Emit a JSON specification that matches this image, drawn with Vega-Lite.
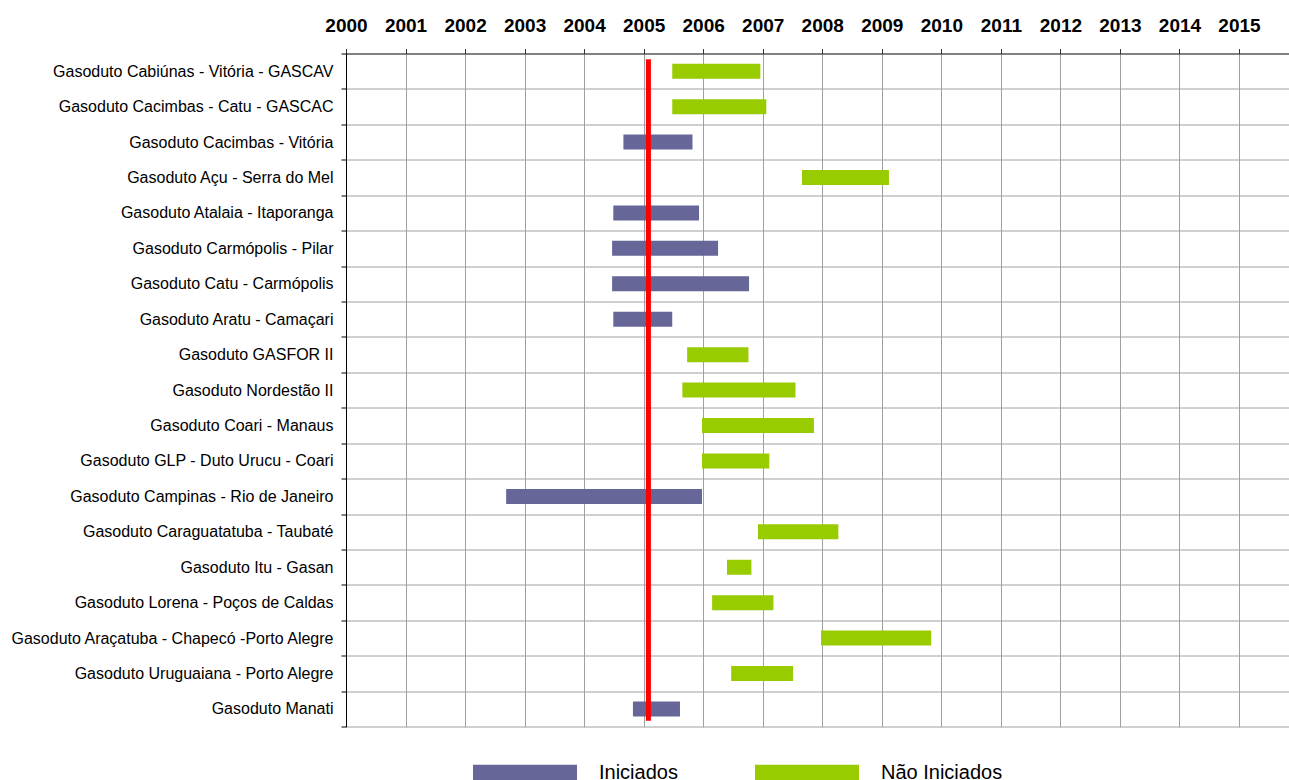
{
  "$schema": "https://vega.github.io/schema/vega-lite/v6.json",
  "autosize": {"type": "none"},
  "padding": {"left": 346, "top": 53.5, "right": 0, "bottom": 53.3},
  "width": 943,
  "height": 673.2,
  "background": "white",
  "config": {
    "view": {"stroke": null},
    "font": "Liberation Sans"
  },
  "datasets": {
    "bars": [
      {"gasoduto": "Gasoduto Cabiúnas - Vitória - GASCAV", "status": "Não Iniciados", "inicio": 2005.48, "fim": 2006.96},
      {"gasoduto": "Gasoduto Cacimbas - Catu - GASCAC", "status": "Não Iniciados", "inicio": 2005.48, "fim": 2007.06},
      {"gasoduto": "Gasoduto Cacimbas - Vitória", "status": "Iniciados", "inicio": 2004.66, "fim": 2005.82},
      {"gasoduto": "Gasoduto Açu - Serra do Mel", "status": "Não Iniciados", "inicio": 2007.66, "fim": 2009.12},
      {"gasoduto": "Gasoduto Atalaia - Itaporanga", "status": "Iniciados", "inicio": 2004.49, "fim": 2005.93},
      {"gasoduto": "Gasoduto Carmópolis - Pilar", "status": "Iniciados", "inicio": 2004.47, "fim": 2006.25},
      {"gasoduto": "Gasoduto Catu - Carmópolis", "status": "Iniciados", "inicio": 2004.47, "fim": 2006.77},
      {"gasoduto": "Gasoduto Aratu - Camaçari", "status": "Iniciados", "inicio": 2004.49, "fim": 2005.48},
      {"gasoduto": "Gasoduto GASFOR II", "status": "Não Iniciados", "inicio": 2005.73, "fim": 2006.76},
      {"gasoduto": "Gasoduto Nordestão II", "status": "Não Iniciados", "inicio": 2005.65, "fim": 2007.55},
      {"gasoduto": "Gasoduto Coari - Manaus", "status": "Não Iniciados", "inicio": 2005.98, "fim": 2007.86},
      {"gasoduto": "Gasoduto GLP - Duto Urucu - Coari", "status": "Não Iniciados", "inicio": 2005.98, "fim": 2007.11},
      {"gasoduto": "Gasoduto Campinas - Rio de Janeiro", "status": "Iniciados", "inicio": 2002.69, "fim": 2005.98},
      {"gasoduto": "Gasoduto Caraguatatuba - Taubaté", "status": "Não Iniciados", "inicio": 2006.92, "fim": 2008.27},
      {"gasoduto": "Gasoduto Itu - Gasan", "status": "Não Iniciados", "inicio": 2006.40, "fim": 2006.81},
      {"gasoduto": "Gasoduto Lorena - Poços de Caldas", "status": "Não Iniciados", "inicio": 2006.15, "fim": 2007.18},
      {"gasoduto": "Gasoduto Araçatuba - Chapecó -Porto Alegre", "status": "Não Iniciados", "inicio": 2007.98, "fim": 2009.83},
      {"gasoduto": "Gasoduto Uruguaiana - Porto Alegre", "status": "Não Iniciados", "inicio": 2006.47, "fim": 2007.51},
      {"gasoduto": "Gasoduto Manati", "status": "Iniciados", "inicio": 2004.82, "fim": 2005.61}
    ],
    "hoje": [
      {"data": 2005.08, "topo": 0.164, "base": 18.83}
    ]
  },
  "resolve": {"scale": {"y": "independent"}},
  "layer": [
    {
      "data": {"name": "bars"},
      "mark": {"type": "bar", "size": 15},
      "encoding": {
        "y": {
          "field": "gasoduto",
          "type": "nominal",
          "sort": null,
          "scale": {"paddingInner": 0, "paddingOuter": 0},
          "axis": {
            "title": null,
            "tickBand": "extent",
            "labelFontSize": 16,
            "labelFont": "Liberation Sans",
            "labelColor": "#000000",
            "labelLimit": 400,
            "labelPadding": 8,
            "tickSize": 5,
            "tickColor": "#000000",
            "domainColor": "#000000",
            "grid": true,
            "gridColor": "#a0a0a0",
            "gridWidth": 1
          }
        },
        "x": {
          "field": "inicio",
          "type": "quantitative",
          "scale": {"domain": [2000, 2015.84], "nice": false, "zero": false},
          "axis": {
            "orient": "top",
            "title": null,
            "values": [2000, 2001, 2002, 2003, 2004, 2005, 2006, 2007, 2008, 2009, 2010, 2011, 2012, 2013, 2014, 2015],
            "format": "d",
            "labelOverlap": false,
            "labelBound": false,
            "labelFlush": false,
            "labelFont": "Liberation Sans",
            "labelFontSize": 19,
            "labelFontWeight": "bold",
            "labelColor": "#000000",
            "labelPadding": 13,
            "tickSize": 5,
            "tickColor": "#333333",
            "domainColor": "#333333",
            "grid": true,
            "gridColor": "#a0a0a0",
            "gridWidth": 1
          }
        },
        "x2": {"field": "fim"},
        "color": {
          "field": "status",
          "type": "nominal",
          "scale": {"domain": ["Iniciados", "Não Iniciados"], "range": ["#666699", "#99CC00"]},
          "legend": {
            "title": null,
            "orient": "none",
            "direction": "horizontal",
            "legendX": 127,
            "legendY": 667,
            "padding": 0,
            "symbolType": "M-1,-0.15L1,-0.15L1,0.15L-1,0.15Z",
            "symbolSize": 10816,
            "symbolStrokeWidth": 0,
            "symbolOpacity": 1,
            "labelFont": "Liberation Sans",
            "labelFontSize": 20,
            "labelColor": "#000000",
            "labelOffset": 22,
            "columnPadding": 77,
            "labelLimit": 300
          }
        }
      }
    },
    {
      "data": {"name": "hoje"},
      "mark": {"type": "rule", "color": "#FF0000", "strokeWidth": 5},
      "encoding": {
        "x": {"field": "data", "type": "quantitative"},
        "y": {"field": "topo", "type": "quantitative", "scale": {"domain": [0, 19], "reverse": true, "nice": false, "zero": false}, "axis": null},
        "y2": {"field": "base"}
      }
    }
  ]
}
